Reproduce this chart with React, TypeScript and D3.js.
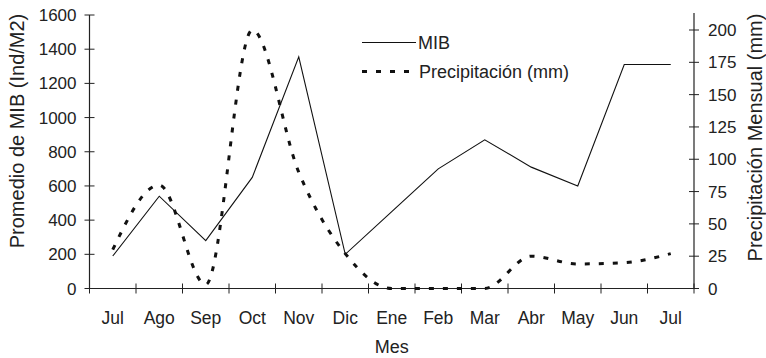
import React, { useEffect, useRef } from 'react';
import * as d3 from 'd3';

const months = ["Jul", "Ago", "Sep", "Oct", "Nov", "Dic", "Ene", "Feb", "Mar", "Abr", "May", "Jun", "Jul"];
const mibValues = [190, 540, 280, 650, 1355, 200, 450, 700, 870, 710, 600, 1310, 1310];
const precipValues = [30, 80, 3, 200, 90, 27, 0, 0, 0, 25, 19, 20, 27];
const leftTicks = [0, 200, 400, 600, 800, 1000, 1200, 1400, 1600];
const rightTicks = [0, 25, 50, 75, 100, 125, 150, 175, 200];

const W = 766;
const H = 358;
const FONT = "'Liberation Sans', Arial, sans-serif";

const App = () => {
  const svgRef = useRef<SVGSVGElement>(null);

  useEffect(() => {
    const svg = d3.select(svgRef.current);
    svg.selectAll("*").remove();

    const left = 89.5;
    const right = 694;
    const top = 15;
    const bottom = 288.5;

    const x = d3.scaleBand<number>()
      .domain(months.map((_, i) => i))
      .range([left, right])
      .padding(0);
    const cx = (i: number) => (x(i) as number) + x.bandwidth() / 2;

    const yL = d3.scaleLinear().domain([0, 1600]).range([bottom, top]);
    // secondary axis: 200 sits a bit below the top of the plot
    const yR = d3.scaleLinear().domain([0, 200]).range([bottom, 30]);

    const axisColor = "#222";
    const textColor = "#222";

    // x axis line + ticks at band edges
    svg.append("line")
      .attr("x1", left).attr("x2", right)
      .attr("y1", bottom).attr("y2", bottom)
      .attr("stroke", axisColor).attr("stroke-width", 1.2);
    for (let i = 0; i <= months.length; i++) {
      const xx = left + i * x.bandwidth();
      svg.append("line")
        .attr("x1", xx).attr("x2", xx)
        .attr("y1", bottom - 5).attr("y2", bottom + 5)
        .attr("stroke", axisColor).attr("stroke-width", 1);
    }
    svg.selectAll(".xlab")
      .data(months)
      .enter().append("text")
      .attr("x", (_, i) => cx(i))
      .attr("y", 324)
      .attr("text-anchor", "middle")
      .style("font-family", FONT)
      .style("font-size", "17.5px")
      .style("fill", textColor)
      .text(d => d);

    svg.append("text")
      .attr("x", (left + right) / 2)
      .attr("y", 353)
      .attr("text-anchor", "middle")
      .style("font-family", FONT)
      .style("font-size", "18px")
      .style("fill", textColor)
      .text("Mes");

    // left axis
    svg.append("line")
      .attr("x1", left).attr("x2", left)
      .attr("y1", top).attr("y2", bottom)
      .attr("stroke", axisColor).attr("stroke-width", 1.2);
    leftTicks.forEach(t => {
      svg.append("line")
        .attr("x1", left - 5).attr("x2", left + 5)
        .attr("y1", yL(t)).attr("y2", yL(t))
        .attr("stroke", axisColor).attr("stroke-width", 1);
      svg.append("text")
        .attr("x", left - 13)
        .attr("y", yL(t))
        .attr("dy", "0.36em")
        .attr("text-anchor", "end")
        .style("font-family", FONT)
        .style("font-size", "17px")
        .style("fill", textColor)
        .text(t);
    });
    svg.append("text")
      .attr("transform", `translate(24,131) rotate(-90)`)
      .attr("text-anchor", "middle")
      .style("font-family", FONT)
      .style("font-size", "20px")
      .style("fill", textColor)
      .text("Promedio de MIB (Ind/M2)");

    // right axis
    svg.append("line")
      .attr("x1", right).attr("x2", right)
      .attr("y1", 13).attr("y2", bottom)
      .attr("stroke", axisColor).attr("stroke-width", 1.2);
    rightTicks.forEach(t => {
      svg.append("line")
        .attr("x1", right - 5).attr("x2", right + 5)
        .attr("y1", yR(t)).attr("y2", yR(t))
        .attr("stroke", axisColor).attr("stroke-width", 1);
      svg.append("text")
        .attr("x", right + 14)
        .attr("y", yR(t))
        .attr("dy", "0.36em")
        .attr("text-anchor", "start")
        .style("font-family", FONT)
        .style("font-size", "17px")
        .style("fill", textColor)
        .text(t);
    });
    svg.append("text")
      .attr("transform", `translate(762,137.5) rotate(-90)`)
      .attr("text-anchor", "middle")
      .style("font-family", FONT)
      .style("font-size", "20px")
      .style("fill", textColor)
      .text("Precipitación Mensual (mm)");

    // MIB line (straight segments)
    const mibLine = d3.line<number>()
      .x((_, i) => cx(i))
      .y(d => yL(d));
    svg.append("path")
      .datum(mibValues)
      .attr("d", mibLine)
      .attr("fill", "none")
      .attr("stroke", "#111")
      .attr("stroke-width", 1.1);

    // precipitation, smoothed dashed line (monotone so it stays flat at zero)
    const precipLine = d3.line<number>()
      .x((_, i) => cx(i))
      .y(d => yR(d))
      .curve(d3.curveMonotoneX);
    svg.append("path")
      .datum(precipValues)
      .attr("d", precipLine)
      .attr("fill", "none")
      .attr("stroke", "#111")
      .attr("stroke-width", 3)
      .attr("stroke-dasharray", "5,9");

    // legend
    svg.append("line")
      .attr("x1", 362).attr("x2", 416)
      .attr("y1", 42.5).attr("y2", 42.5)
      .attr("stroke", "#111").attr("stroke-width", 1.2);
    svg.append("text")
      .attr("x", 418).attr("y", 49)
      .style("font-family", FONT)
      .style("font-size", "18px")
      .style("fill", textColor)
      .text("MIB");
    svg.append("line")
      .attr("x1", 362).attr("x2", 414)
      .attr("y1", 71.5).attr("y2", 71.5)
      .attr("stroke", "#111").attr("stroke-width", 3)
      .attr("stroke-dasharray", "5,9");
    svg.append("text")
      .attr("x", 419).attr("y", 78)
      .style("font-family", FONT)
      .style("font-size", "18px")
      .style("fill", textColor)
      .text("Precipitación (mm)");
  }, []);

  return (
    <svg
      ref={svgRef}
      width={W}
      height={H}
      style={{ position: 'absolute', left: 0, top: 0, background: '#fff' }}
    ></svg>
  );
};

export default App;
